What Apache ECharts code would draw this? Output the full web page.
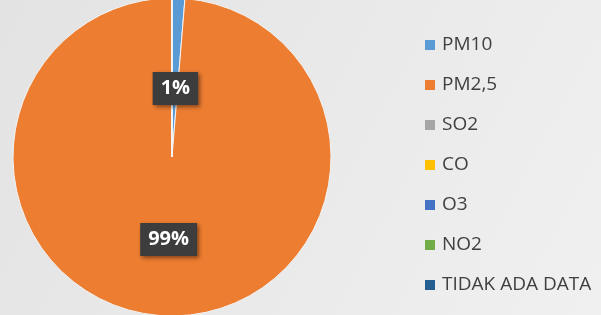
<!DOCTYPE html>
<html>
<head>
<meta charset="utf-8">
<script src="https://cdn.jsdelivr.net/npm/echarts@6/dist/echarts.min.js"></script>
<style>
  html, body { margin: 0; padding: 0; }
  #main { width: 601px; height: 315px; }
</style>
</head>
<body>
<div id="main"></div>
<script>
// kategori polutan dan nilainya (persen)
const categories = ['PM10', 'PM2,5', 'SO2', 'CO', 'O3', 'NO2', 'TIDAK ADA DATA'];
const values = [1.3, 98.7, 0, 0, 0, 0, 0];
const colors = ['#5b9bd5', '#ed7d31', '#a5a5a5', '#ffc000', '#4472c4', '#70ad47', '#255e91'];

const chart = echarts.init(document.getElementById('main'));

// data pie, label disembunyikan untuk nilai nol
const pieData = categories.map((name, i) => ({
  name: name,
  value: values[i],
  label: i === 0 ? { show: true, offset: [0, 14] } : { show: values[i] > 0 }
}));

const option = {
  backgroundColor: {
    type: 'linear', x: 0, y: 0, x2: 1, y2: 1,
    colorStops: [
      { offset: 0, color: '#e3e3e3' },
      { offset: 1, color: '#f0f0f0' }
    ]
  },
  color: colors,
  legend: {
    orient: 'vertical',
    left: 420,
    top: 30,
    itemWidth: 10,
    itemHeight: 10,
    itemGap: 20,
    icon: 'rect',
    itemStyle: { borderWidth: 0 },
    textStyle: {
      fontFamily: 'Open Sans',
      fontSize: 19,
      lineHeight: 20,
      color: '#404040',
      padding: [0, 0, 0, 2]
    },
    data: categories
  },
  series: [
    {
      type: 'pie',
      center: [172, 157],
      radius: [0, 159],
      startAngle: 90,
      clockwise: true,
      avoidLabelOverlap: false,
      silent: true,
      itemStyle: { borderColor: '#f4f4f4', borderWidth: 1 },
      label: {
        position: 'inside',
        formatter: p => Math.round(p.percent) + '%',
        color: '#fff',
        fontFamily: 'Open Sans',
        fontWeight: 'bold',
        fontSize: 20,
        backgroundColor: '#3d3d3d',
        padding: [7, 8, 6, 8],
        shadowColor: 'rgba(0,0,0,0.45)',
        shadowBlur: 4,
        shadowOffsetX: 2,
        shadowOffsetY: 2
      },
      labelLine: { show: false },
      data: pieData
    }
  ]
};

chart.setOption(option);
</script>
</body>
</html>
